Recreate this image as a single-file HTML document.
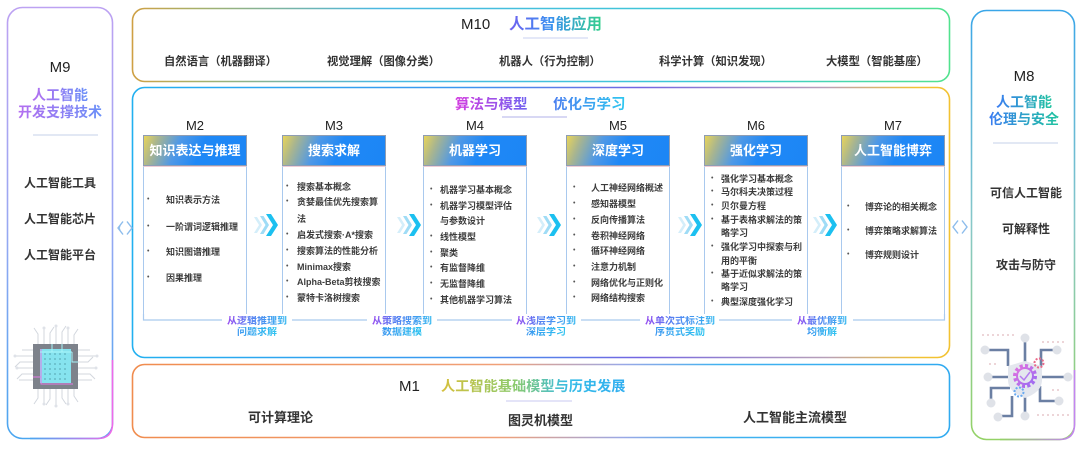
<!DOCTYPE html>
<html><head><meta charset="utf-8">
<style>
*{margin:0;padding:0;box-sizing:border-box}
html,body{width:1080px;height:450px;background:#fff;overflow:hidden}
body{position:relative;font-family:"Liberation Sans","Noto Sans CJK SC",sans-serif;color:#333}
.a{position:absolute;white-space:nowrap}
.g{-webkit-background-clip:text;background-clip:text;color:transparent;-webkit-text-fill-color:transparent}
.hd{position:absolute;top:135px;width:104px;height:31px;border:1px solid #8f9db3;background:linear-gradient(112deg,#e8d45a 0%,#a9b58f 13%,#4f98e6 33%,#1f88f6 55%,#1c86f5 100%);color:#fff;font-weight:bold;font-size:13px;line-height:29px;text-align:center;white-space:nowrap}
.cb{position:absolute;top:166px;width:104px;height:148px;border-left:1px solid #a9c9ee;border-right:1px solid #a9c9ee;border-top:1px solid #efcdd6}
.ml{position:absolute;top:118px;width:104px;text-align:center;font-size:13px;line-height:16px;color:#222}
.li{position:absolute;font-size:9px;line-height:12px;font-weight:bold;color:#3c3c3c;white-space:nowrap}
.bu{position:absolute;font-size:7px;line-height:12px;color:#555}
.lb{position:absolute;width:90px;text-align:center;font-size:10px;line-height:11px;font-weight:bold;white-space:nowrap}
.lb span{background:linear-gradient(90deg,#9a4ef0 0%,#5a7cf2 35%,#2fb6f0 100%);-webkit-background-clip:text;background-clip:text;color:transparent;-webkit-text-fill-color:transparent}
.it{position:absolute;font-weight:bold;color:#333;white-space:nowrap}
</style></head><body>

<svg width="1080" height="450" style="position:absolute;left:0;top:0" xmlns="http://www.w3.org/2000/svg">
<defs>
<linearGradient id="gM9" x1="0" y1="0" x2="0" y2="1">
<stop offset="0" stop-color="#bda2f2"/><stop offset="0.5" stop-color="#9aa8f2"/><stop offset="1" stop-color="#4aa6f0"/></linearGradient>
<linearGradient id="gM9b" x1="0" y1="0" x2="1" y2="0">
<stop offset="0" stop-color="#4aa6f0"/><stop offset="1" stop-color="#f06ae8"/></linearGradient>
<linearGradient id="gM10" x1="0" y1="0" x2="1" y2="0">
<stop offset="0" stop-color="#cfa044"/><stop offset="0.08" stop-color="#a6b06a"/><stop offset="0.3" stop-color="#4ab8e2"/><stop offset="0.7" stop-color="#3ec8d6"/><stop offset="1" stop-color="#52e28e"/></linearGradient>
<linearGradient id="gMid" x1="0" y1="0" x2="1" y2="0">
<stop offset="0" stop-color="#22b0f0"/><stop offset="0.4" stop-color="#3c98f0"/><stop offset="0.62" stop-color="#7466e2"/><stop offset="0.85" stop-color="#b8a0b8"/><stop offset="0.96" stop-color="#f2c232"/><stop offset="1" stop-color="#f2c232"/></linearGradient>
<linearGradient id="gM1" x1="0" y1="0" x2="1" y2="0">
<stop offset="0" stop-color="#f08c4e"/><stop offset="0.45" stop-color="#f0a078"/><stop offset="0.6" stop-color="#9aa8e6"/><stop offset="0.72" stop-color="#40b2f0"/><stop offset="1" stop-color="#30aaf0"/></linearGradient>
<linearGradient id="gM8" x1="0" y1="0" x2="0" y2="1">
<stop offset="0" stop-color="#3aa6e8"/><stop offset="0.5" stop-color="#88c8c8"/><stop offset="1" stop-color="#94d266"/></linearGradient>
<linearGradient id="gM8b" x1="0" y1="0" x2="1" y2="0">
<stop offset="0" stop-color="#94d266"/><stop offset="1" stop-color="#c484f2"/></linearGradient>
<linearGradient id="gear" x1="0" y1="0" x2="1" y2="1">
<stop offset="0" stop-color="#e070e0"/><stop offset="1" stop-color="#9a6cf2"/></linearGradient>
</defs>

<!-- M9 box -->
<rect x="7.5" y="7.5" width="105" height="431" rx="15" fill="none" stroke="url(#gM9)" stroke-width="1.6"/>
<path d="M112.5,360 V423.5 Q112.5,438.5 97.5,438.5 H30" fill="none" stroke="url(#gM9b)" stroke-width="1.6"/>
<!-- M10 box -->
<rect x="132.5" y="8.5" width="817" height="73" rx="12" fill="none" stroke="url(#gM10)" stroke-width="1.6"/>
<!-- middle box -->
<rect x="132.5" y="87.5" width="817" height="270" rx="12" fill="none" stroke="url(#gMid)" stroke-width="1.6"/>
<!-- M1 box -->
<rect x="132.5" y="364.5" width="817" height="73" rx="12" fill="none" stroke="url(#gM1)" stroke-width="1.6"/>
<!-- M8 box -->
<rect x="971.5" y="10.5" width="103" height="429" rx="15" fill="none" stroke="url(#gM8)" stroke-width="1.6"/>
<path d="M1000,439.5 H1059.5 Q1074.5,439.5 1074.5,424.5 V370" fill="none" stroke="url(#gM8b)" stroke-width="1.6"/>

<!-- dividers -->
<line x1="33" y1="135" x2="98" y2="135" stroke="#c4d2e8" stroke-width="1"/>
<line x1="993" y1="143" x2="1058" y2="143" stroke="#c4d2e8" stroke-width="1"/>
<line x1="523" y1="38" x2="588" y2="38" stroke="#c8d0f0" stroke-width="1"/>
<line x1="502" y1="117" x2="567" y2="117" stroke="#b2b2e8" stroke-width="1"/>
<line x1="506" y1="401" x2="572" y2="401" stroke="#c8c8f0" stroke-width="1"/>

<!-- bottom connector line -->
<g stroke="#a9c9ee" stroke-width="1.2" fill="none">
<path d="M143.5,314 V320 H222"/>
<path d="M292,320 H367"/>
<path d="M437,320 H512"/>
<path d="M581,320 H640"/>
<path d="M719,320 H792"/>
<path d="M853,320 H944.5 V314"/>
</g>

<!-- chevrons -->
<g>
<g transform="translate(254,225)">
<polygon points="0,-8 3,-8 8,0 3,8 0,8 5,0" fill="#d4eefa"/>
<polygon points="6,-9 9.5,-9 15,0 9.5,9 6,9 11.5,0" fill="#9fdcf6"/>
<polygon points="12,-11 17,-11 24,0 17,11 12,11 19,0" fill="#1cc0f0"/>
</g>
<g transform="translate(397,225)">
<polygon points="0,-8 3,-8 8,0 3,8 0,8 5,0" fill="#d4eefa"/>
<polygon points="6,-9 9.5,-9 15,0 9.5,9 6,9 11.5,0" fill="#9fdcf6"/>
<polygon points="12,-11 17,-11 24,0 17,11 12,11 19,0" fill="#1cc0f0"/>
</g>
<g transform="translate(537,225)">
<polygon points="0,-8 3,-8 8,0 3,8 0,8 5,0" fill="#d4eefa"/>
<polygon points="6,-9 9.5,-9 15,0 9.5,9 6,9 11.5,0" fill="#9fdcf6"/>
<polygon points="12,-11 17,-11 24,0 17,11 12,11 19,0" fill="#1cc0f0"/>
</g>
<g transform="translate(678,225)">
<polygon points="0,-8 3,-8 8,0 3,8 0,8 5,0" fill="#d4eefa"/>
<polygon points="6,-9 9.5,-9 15,0 9.5,9 6,9 11.5,0" fill="#9fdcf6"/>
<polygon points="12,-11 17,-11 24,0 17,11 12,11 19,0" fill="#1cc0f0"/>
</g>
<g transform="translate(813,225)">
<polygon points="0,-8 3,-8 8,0 3,8 0,8 5,0" fill="#d4eefa"/>
<polygon points="6,-9 9.5,-9 15,0 9.5,9 6,9 11.5,0" fill="#9fdcf6"/>
<polygon points="12,-11 17,-11 24,0 17,11 12,11 19,0" fill="#1cc0f0"/>
</g>
</g>

<!-- diamond arrows -->
<g fill="none" stroke="#8cbcec" stroke-width="1.4">
<path d="M123,221.5 L118,228 L123,234.5"/><path d="M127,221.5 L132,228 L127,234.5"/>
<path d="M120.5,224.5 L119.5,228 L120.5,231.5" stroke-width="0.8"/>
<path d="M958,220.5 L953,227 L958,233.5"/><path d="M962,220.5 L967,227 L962,233.5"/>
</g>

<!-- chip (M9) -->
<g stroke="#d3d7de" stroke-width="1" fill="none">
<path d="M38,344 V334 L34,328"/><path d="M44,344 V329"/><path d="M50,344 V333 L54,327"/><path d="M56,344 V327"/><path d="M62,344 V332 L66,326"/><path d="M68,344 V329"/><path d="M74,344 V335 L78,329"/>
<path d="M38,389 V398 L34,404"/><path d="M44,389 V403"/><path d="M50,389 V399 L46,405"/><path d="M56,389 V405"/><path d="M62,389 V398 L66,404"/><path d="M68,389 V403"/><path d="M74,389 V396 L78,402"/>
<path d="M33,350 H22"/><path d="M33,356 H15"/><path d="M33,362 H20 L15,367"/><path d="M33,368 H17"/><path d="M33,374 H22 L17,379"/><path d="M33,380 H19"/>
<path d="M78,350 H90"/><path d="M78,356 H97"/><path d="M78,362 H88 L93,357"/><path d="M78,368 H96"/><path d="M78,374 H90 L95,379"/><path d="M78,380 H92"/>
</g>
<g fill="#dfe2e8">
<circle cx="44" cy="328" r="1.5"/><circle cx="56" cy="326" r="1.5"/><circle cx="68" cy="328" r="1.5"/>
<circle cx="44" cy="404" r="1.5"/><circle cx="56" cy="406" r="1.5"/><circle cx="68" cy="404" r="1.5"/>
<circle cx="15" cy="356" r="1.5"/><circle cx="17" cy="368" r="1.5"/><circle cx="97" cy="356" r="1.5"/><circle cx="96" cy="368" r="1.5"/>
</g>
<rect x="33" y="344" width="45" height="45" fill="#7d828b"/>
<rect x="40" y="349" width="31" height="34" fill="#86e3ef"/>
<g fill="#5eaeba">
<circle cx="45" cy="354" r="0.9"/><circle cx="50" cy="354" r="0.9"/><circle cx="55" cy="354" r="0.9"/><circle cx="60" cy="354" r="0.9"/><circle cx="65" cy="354" r="0.9"/>
<circle cx="45" cy="359" r="0.9"/><circle cx="50" cy="359" r="0.9"/><circle cx="55" cy="359" r="0.9"/><circle cx="60" cy="359" r="0.9"/><circle cx="65" cy="359" r="0.9"/>
<circle cx="45" cy="364" r="0.9"/><circle cx="50" cy="364" r="0.9"/><circle cx="55" cy="364" r="0.9"/><circle cx="60" cy="364" r="0.9"/><circle cx="65" cy="364" r="0.9"/>
<circle cx="45" cy="369" r="0.9"/><circle cx="50" cy="369" r="0.9"/><circle cx="55" cy="369" r="0.9"/><circle cx="60" cy="369" r="0.9"/><circle cx="65" cy="369" r="0.9"/>
<circle cx="45" cy="374" r="0.9"/><circle cx="50" cy="374" r="0.9"/><circle cx="55" cy="374" r="0.9"/><circle cx="60" cy="374" r="0.9"/><circle cx="65" cy="374" r="0.9"/>
<circle cx="45" cy="379" r="0.9"/><circle cx="50" cy="379" r="0.9"/><circle cx="55" cy="379" r="0.9"/><circle cx="60" cy="379" r="0.9"/><circle cx="65" cy="379" r="0.9"/>
</g>
<g fill="none" stroke-width="1">
<path d="M41,349 V384 H73" stroke="#e27ae6"/>
<path d="M33,377 H41" stroke="#e27ae6"/>
<path d="M40,352 H72 M52,344 V352 M62,344 V352 M72,352 V362 H78" stroke="#a8f4fa"/>
</g>

<!-- M8 icon -->
<g fill="#e8c8cc">
<circle cx="983" cy="335" r="1"/><circle cx="988" cy="335" r="1"/><circle cx="993" cy="335" r="1"/><circle cx="998" cy="335" r="1"/><circle cx="1003" cy="335" r="1"/><circle cx="1008" cy="335" r="1"/><circle cx="1013" cy="335" r="1"/>
<circle cx="1043" cy="342" r="1"/><circle cx="1048" cy="342" r="1"/><circle cx="1053" cy="342" r="1"/><circle cx="1058" cy="342" r="1"/><circle cx="1063" cy="342" r="1"/>
<circle cx="990" cy="364" r="1"/><circle cx="995" cy="364" r="1"/>
<circle cx="1053" cy="390" r="1"/><circle cx="1058" cy="390" r="1"/>
<circle cx="1038" cy="415" r="1"/><circle cx="1043" cy="415" r="1"/><circle cx="1048" cy="415" r="1"/><circle cx="1053" cy="415" r="1"/><circle cx="1058" cy="415" r="1"/><circle cx="1063" cy="415" r="1"/><circle cx="1068" cy="415" r="1"/>
</g>
<g fill="none" stroke="#6b7fa3" stroke-width="2.6">
<path d="M1025,339 V415"/>
<path d="M989,377 H1012"/><path d="M1038,377 H1066"/>
<path d="M988,350 H1008 V366"/>
<path d="M1055,350 H1041 V366"/>
<path d="M991,400 V388 H1010"/>
<path d="M1040,386 V401 H1057"/>
<path d="M999,416 H1012 V396"/>
</g>
<g fill="#dfe2e8">
<circle cx="1025" cy="338" r="4.5"/><circle cx="985" cy="350" r="4.5"/><circle cx="1057" cy="350" r="4.5"/>
<circle cx="988" cy="377" r="4.5"/><circle cx="1068" cy="377" r="4.5"/>
<circle cx="991" cy="403" r="4.5"/><circle cx="1059" cy="401" r="4.5"/>
<circle cx="998" cy="417" r="4.5"/><circle cx="1025" cy="416" r="4.5"/>
</g>
<path d="M1025,361 L1042,366 V380 Q1042,392 1025,398 Q1008,392 1008,380 V366 Z" fill="#e4e7ee"/>
<circle cx="1025" cy="376" r="10" fill="none" stroke="url(#gear)" stroke-width="4" stroke-dasharray="3 2.2"/>
<circle cx="1025" cy="376" r="8" fill="none" stroke="url(#gear)" stroke-width="2"/>
<path d="M1020,376 L1024,380 L1030,372" fill="none" stroke="#b47cf0" stroke-width="1.5"/>
<circle cx="1039" cy="363" r="4.5" fill="none" stroke="#e86a8a" stroke-width="2" stroke-dasharray="2 1.5"/>
<circle cx="1019" cy="392" r="4.5" fill="none" stroke="#6aaaf0" stroke-width="2" stroke-dasharray="2 1.5"/>
</svg>

<!-- M9 text -->
<div class="a" style="left:7px;width:106px;text-align:center;top:59px;font-size:15px;line-height:18px;color:#222">M9</div>
<div class="a" style="left:7px;width:106px;text-align:center;top:86px;font-size:14px;line-height:18px;font-weight:bold"><span class="g" style="background-image:linear-gradient(90deg,#b46ef0,#6a90f8)">人工智能</span></div>
<div class="a" style="left:7px;width:106px;text-align:center;top:103px;font-size:14px;line-height:18px;font-weight:bold"><span class="g" style="background-image:linear-gradient(90deg,#b46ef0,#6a90f8)">开发支撑技术</span></div>
<div class="it" style="left:7px;width:106px;text-align:center;top:175px;font-size:12px;line-height:16px">人工智能工具</div>
<div class="it" style="left:7px;width:106px;text-align:center;top:211px;font-size:12px;line-height:16px">人工智能芯片</div>
<div class="it" style="left:7px;width:106px;text-align:center;top:247px;font-size:12px;line-height:16px">人工智能平台</div>

<!-- M8 text -->
<div class="a" style="left:972px;width:104px;text-align:center;top:68px;font-size:15px;line-height:18px;color:#222">M8</div>
<div class="a" style="left:972px;width:104px;text-align:center;top:93px;font-size:14px;line-height:18px;font-weight:bold"><span class="g" style="background-image:linear-gradient(90deg,#3a7cf2,#20c4a0)">人工智能</span></div>
<div class="a" style="left:972px;width:104px;text-align:center;top:110px;font-size:14px;line-height:18px;font-weight:bold"><span class="g" style="background-image:linear-gradient(90deg,#3a7cf2,#20c4a0)">伦理与安全</span></div>
<div class="it" style="left:974px;width:104px;text-align:center;top:185px;font-size:12px;line-height:16px">可信人工智能</div>
<div class="it" style="left:974px;width:104px;text-align:center;top:221px;font-size:12px;line-height:16px">可解释性</div>
<div class="it" style="left:974px;width:104px;text-align:center;top:257px;font-size:12px;line-height:16px">攻击与防守</div>

<!-- M10 -->
<div class="a" style="left:461px;top:16px;font-size:15px;line-height:18px;color:#222">M10</div>
<div class="a" style="left:509px;top:16px;font-size:15.5px;line-height:18px;font-weight:bold"><span class="g" style="background-image:linear-gradient(90deg,#7060f0,#3a90f0 45%,#34d08c)">人工智能应用</span></div>
<div class="it" style="left:164px;top:55px;font-size:11.3px;line-height:14px">自然语言（机器翻译）</div>
<div class="it" style="left:327px;top:55px;font-size:11.3px;line-height:14px">视觉理解（图像分类）</div>
<div class="it" style="left:499px;top:55px;font-size:11.3px;line-height:14px">机器人（行为控制）</div>
<div class="it" style="left:659px;top:55px;font-size:11.3px;line-height:14px">科学计算（知识发现）</div>
<div class="it" style="left:826px;top:55px;font-size:11.3px;line-height:14px">大模型（智能基座）</div>

<!-- middle titles -->
<div class="a" style="left:455px;top:96px;font-size:14.5px;line-height:18px;font-weight:bold"><span class="g" style="background-image:linear-gradient(90deg,#d43ee0,#7062f0)">算法与模型</span></div>
<div class="a" style="left:553px;top:96px;font-size:14.5px;line-height:18px;font-weight:bold"><span class="g" style="background-image:linear-gradient(90deg,#4a7ef0,#2ec8f0)">优化与学习</span></div>

<!-- M labels -->
<div class="ml" style="left:143px">M2</div>
<div class="ml" style="left:282px">M3</div>
<div class="ml" style="left:423px">M4</div>
<div class="ml" style="left:566px">M5</div>
<div class="ml" style="left:704px">M6</div>
<div class="ml" style="left:841px">M7</div>

<!-- headers -->
<div class="hd" style="left:143px">知识表达与推理</div>
<div class="hd" style="left:282px">搜索求解</div>
<div class="hd" style="left:423px">机器学习</div>
<div class="hd" style="left:566px">深度学习</div>
<div class="hd" style="left:704px">强化学习</div>
<div class="hd" style="left:841px">人工智能博弈</div>

<!-- content boxes -->
<div class="cb" style="left:143px"></div>
<div class="cb" style="left:282px"></div>
<div class="cb" style="left:423px"></div>
<div class="cb" style="left:566px"></div>
<div class="cb" style="left:704px"></div>
<div class="cb" style="left:841px"></div>

<!-- M2 list -->
<div class="bu" style="left:147px;top:194px">•</div><div class="li" style="left:166px;top:194px">知识表示方法</div>
<div class="bu" style="left:147px;top:221px">•</div><div class="li" style="left:166px;top:221px">一阶谓词逻辑推理</div>
<div class="bu" style="left:147px;top:246px">•</div><div class="li" style="left:166px;top:246px">知识图谱推理</div>
<div class="bu" style="left:147px;top:272px">•</div><div class="li" style="left:166px;top:272px">因果推理</div>

<!-- M3 list -->
<div class="bu" style="left:286px;top:181px">•</div><div class="li" style="left:297px;top:181px">搜索基本概念</div>
<div class="bu" style="left:286px;top:196px">•</div><div class="li" style="left:297px;top:196px">贪婪最佳优先搜索算</div>
<div class="li" style="left:297px;top:213px">法</div>
<div class="bu" style="left:286px;top:229px">•</div><div class="li" style="left:297px;top:229px">启发式搜索·A*搜索</div>
<div class="bu" style="left:286px;top:245px">•</div><div class="li" style="left:297px;top:245px">搜索算法的性能分析</div>
<div class="bu" style="left:286px;top:261px">•</div><div class="li" style="left:297px;top:261px">Minimax搜索</div>
<div class="bu" style="left:286px;top:276px">•</div><div class="li" style="left:297px;top:276px">Alpha-Beta剪枝搜索</div>
<div class="bu" style="left:286px;top:292px">•</div><div class="li" style="left:297px;top:292px">蒙特卡洛树搜索</div>

<!-- M4 list -->
<div class="bu" style="left:430px;top:184px">•</div><div class="li" style="left:440px;top:184px">机器学习基本概念</div>
<div class="bu" style="left:430px;top:200px">•</div><div class="li" style="left:440px;top:200px">机器学习模型评估</div>
<div class="li" style="left:440px;top:215px">与参数设计</div>
<div class="bu" style="left:430px;top:231px">•</div><div class="li" style="left:440px;top:231px">线性模型</div>
<div class="bu" style="left:430px;top:247px">•</div><div class="li" style="left:440px;top:247px">聚类</div>
<div class="bu" style="left:430px;top:262px">•</div><div class="li" style="left:440px;top:262px">有监督降维</div>
<div class="bu" style="left:430px;top:278px">•</div><div class="li" style="left:440px;top:278px">无监督降维</div>
<div class="bu" style="left:430px;top:294px">•</div><div class="li" style="left:440px;top:294px">其他机器学习算法</div>

<!-- M5 list -->
<div class="bu" style="left:573px;top:182px">•</div><div class="li" style="left:591px;top:182px">人工神经网络概述</div>
<div class="bu" style="left:573px;top:198px">•</div><div class="li" style="left:591px;top:198px">感知器模型</div>
<div class="bu" style="left:573px;top:214px">•</div><div class="li" style="left:591px;top:214px">反向传播算法</div>
<div class="bu" style="left:573px;top:230px">•</div><div class="li" style="left:591px;top:230px">卷积神经网络</div>
<div class="bu" style="left:573px;top:245px">•</div><div class="li" style="left:591px;top:245px">循环神经网络</div>
<div class="bu" style="left:573px;top:261px">•</div><div class="li" style="left:591px;top:261px">注意力机制</div>
<div class="bu" style="left:573px;top:277px">•</div><div class="li" style="left:591px;top:277px">网络优化与正则化</div>
<div class="bu" style="left:573px;top:292px">•</div><div class="li" style="left:591px;top:292px">网络结构搜索</div>

<!-- M6 list -->
<div class="bu" style="left:711px;top:173px">•</div><div class="li" style="left:721px;top:173px">强化学习基本概念</div>
<div class="bu" style="left:711px;top:186px">•</div><div class="li" style="left:721px;top:186px">马尔科夫决策过程</div>
<div class="bu" style="left:711px;top:200px">•</div><div class="li" style="left:721px;top:200px">贝尔曼方程</div>
<div class="bu" style="left:711px;top:214px">•</div><div class="li" style="left:721px;top:214px">基于表格求解法的策</div>
<div class="li" style="left:721px;top:227px">略学习</div>
<div class="bu" style="left:711px;top:241px">•</div><div class="li" style="left:721px;top:241px">强化学习中探索与利</div>
<div class="li" style="left:721px;top:255px">用的平衡</div>
<div class="bu" style="left:711px;top:268px">•</div><div class="li" style="left:721px;top:268px">基于近似求解法的策</div>
<div class="li" style="left:721px;top:281px">略学习</div>
<div class="bu" style="left:711px;top:296px">•</div><div class="li" style="left:721px;top:296px">典型深度强化学习</div>

<!-- M7 list -->
<div class="bu" style="left:847px;top:201px">•</div><div class="li" style="left:865px;top:201px">博弈论的相关概念</div>
<div class="bu" style="left:847px;top:225px">•</div><div class="li" style="left:865px;top:225px">博弈策略求解算法</div>
<div class="bu" style="left:847px;top:249px">•</div><div class="li" style="left:865px;top:249px">博弈规则设计</div>

<!-- bottom labels -->
<div class="lb" style="left:212px;top:316px"><span>从逻辑推理到</span></div>
<div class="lb" style="left:212px;top:327px"><span style="background-image:linear-gradient(90deg,#3a96f0,#2ec4f0)">问题求解</span></div>
<div class="lb" style="left:357px;top:316px"><span>从策略搜索到</span></div>
<div class="lb" style="left:357px;top:327px"><span style="background-image:linear-gradient(90deg,#3a96f0,#2ec4f0)">数据建模</span></div>
<div class="lb" style="left:501px;top:316px"><span>从浅层学习到</span></div>
<div class="lb" style="left:501px;top:327px"><span style="background-image:linear-gradient(90deg,#3a96f0,#2ec4f0)">深层学习</span></div>
<div class="lb" style="left:635px;top:316px"><span>从单次式标注到</span></div>
<div class="lb" style="left:635px;top:327px"><span style="background-image:linear-gradient(90deg,#3a96f0,#2ec4f0)">序贯式奖励</span></div>
<div class="lb" style="left:777px;top:316px"><span>从最优解到</span></div>
<div class="lb" style="left:777px;top:327px"><span style="background-image:linear-gradient(90deg,#3a96f0,#2ec4f0)">均衡解</span></div>

<!-- M1 -->
<div class="a" style="left:399px;top:378px;font-size:15px;line-height:18px;color:#222">M1</div>
<div class="a" style="left:441px;top:378px;font-size:14.2px;line-height:18px;font-weight:bold"><span class="g" style="background-image:linear-gradient(90deg,#d6c03c,#8cca6c 40%,#36bce8 70%,#30aef0)">人工智能基础模型与历史发展</span></div>
<div class="it" style="left:248px;top:410px;font-size:13px;line-height:16px">可计算理论</div>
<div class="it" style="left:508px;top:413px;font-size:13px;line-height:16px">图灵机模型</div>
<div class="it" style="left:743px;top:410px;font-size:13px;line-height:16px">人工智能主流模型</div>

</body></html>
